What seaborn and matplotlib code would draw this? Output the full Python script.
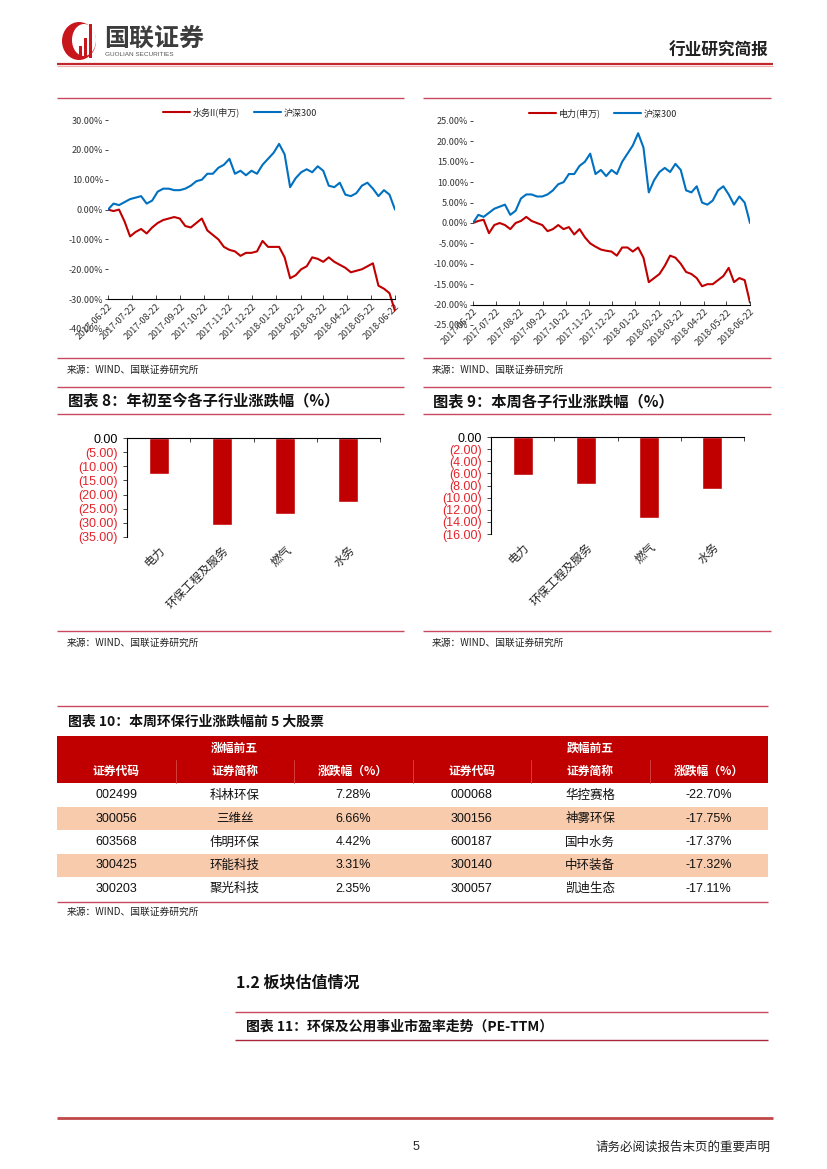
import numpy as np
import pandas as pd
import matplotlib
matplotlib.use('Agg')
import matplotlib.pyplot as plt
import matplotlib.patches as mpatches
import seaborn as sns

W, H = 827, 1169

# ---------------- data ----------------
line_dates = pd.date_range('2017-06-22', '2018-06-22', periods=53)
hs300 = [0, 2.0, 1.5, 2.5, 3.5, 4.0, 4.5, 2.0, 3.0, 6.0, 7.0, 7.0, 6.5, 6.5, 7.0,
         8.0, 9.5, 10.0, 12.0, 12.0, 14.0, 15.0, 17.0, 12.0, 13.0, 11.5, 13.0, 12.0,
         15.0, 17.0, 19.0, 22.0, 18.5, 7.5, 10.5, 12.5, 13.5, 12.5, 14.5, 13.0, 8.0,
         7.5, 9.0, 5.0, 4.5, 5.5, 8.0, 9.0, 7.0, 4.5, 6.5, 5.0, 0.0]
water = [0, -0.5, 0, -4, -9, -7.5, -6.5, -8, -6, -4.5, -3.5, -3, -2.5, -3, -5.5,
         -6, -4.5, -3, -7, -8.5, -10, -12.5, -13.5, -14, -15.5, -14.5, -14.5, -14,
         -10.5, -12.5, -12.5, -12.5, -16, -23, -22, -20, -19, -16, -16.5, -17.5, -16,
         -17.5, -18.5, -19.5, -21, -20.5, -20, -19, -18, -25.5, -26.5, -28, -34]
power = [0, 0.5, 0.8, -2.5, -0.5, 0, -0.5, -1.5, 0, 0.5, 1.5, 0.5, 0, -0.5, -2,
         -1.5, -0.5, -1.5, -1, -2.8, -1.5, -3.5, -5, -5.8, -6.5, -6.8, -7, -8,
         -6, -6, -7, -6, -8.5, -14.5, -13.5, -12.5, -10.5, -8, -8.5, -10, -12,
         -12.5, -13.5, -15.5, -15, -15, -14, -13, -11, -14.5, -13.5, -14, -19.5]
month_ticks = ['2017-06-22', '2017-07-22', '2017-08-22', '2017-09-22', '2017-10-22',
               '2017-11-22', '2017-12-22', '2018-01-22', '2018-02-22', '2018-03-22',
               '2018-04-22', '2018-05-22', '2018-06-22']

bar_cats = ['电力', '环保工程及服务', '燃气', '水务']
ytd_chg = [-12.8, -30.6, -26.9, -22.7]
week_chg = [-6.3, -7.7, -13.4, -8.5]

tbl_head = ['证券代码', '证券简称', '涨跌幅（%）', '证券代码', '证券简称', '涨跌幅（%）']
up_code = ['002499', '300056', '603568', '300425', '300203']
up_name = ['科林环保', '三维丝', '伟明环保', '环能科技', '聚光科技']
up_pct = [7.28, 6.66, 4.42, 3.31, 2.35]
dn_code = ['000068', '300156', '600187', '300140', '300057']
dn_name = ['华控赛格', '神雾环保', '国中水务', '中环装备', '凯迪生态']
dn_pct = [-22.70, -17.75, -17.37, -17.32, -17.11]

RED = '#C00000'
BLUE = '#0070C0'
NEG = '#E3242B'
SEP = '#C84860'
SRC = '来源：WIND、国联证券研究所'

sns.set_theme(style='white')
plt.rcParams['font.family'] = ['Noto Sans CJK SC', 'DejaVu Sans']
LAT = ['Liberation Sans', 'Noto Sans CJK SC']

fig = plt.figure(figsize=(W / 100, H / 100), dpi=100)


def px(x0, y0, x1, y1):
    return [x0 / W, 1 - y1 / H, (x1 - x0) / W, (y1 - y0) / H]


bg = fig.add_axes([0, 0, 1, 1])
bg.set_xlim(0, W)
bg.set_ylim(H, 0)
bg.axis('off')


def hline(y, x0, x1, color=SEP, lw=1.0):
    bg.plot([x0, x1], [y, y], color=color, lw=lw, solid_capstyle='butt')


# ---------------- header / footer ----------------
bg.add_patch(mpatches.Ellipse((79, 41), 34, 38, fc='#C8161D', ec='none'))
bg.add_patch(mpatches.Ellipse((84, 40), 24, 32, fc='white', ec='none'))
for bx, top in [(79, 46), (84, 38), (89, 24)]:
    bg.add_patch(mpatches.Rectangle((bx, top), 2.6, 58 - top, fc='#C8161D', ec='none'))
bg.text(104, 39, '国联证券', fontsize=18, fontweight='bold', color='#3c3c3c', va='center')
bg.text(105, 54, 'GUOLIAN SECURITIES', fontsize=4.6, color='#555555', va='center',
        family=LAT)
bg.text(768, 51, '行业研究简报', fontsize=12, fontweight='bold', color='#222222',
        ha='right', va='center')
hline(64, 57, 773, color='#C0282D', lw=1.6)
hline(65.8, 57, 773, color='#EDB0B0', lw=0.8)

hline(1118, 57, 773, color='#C04848', lw=2.0)
bg.text(416, 1147, '5', fontsize=9, ha='center', va='center', family=LAT)
bg.text(771, 1147, '请务必阅读报告末页的重要声明', fontsize=9, ha='right', va='center',
        color='#222222')


# ---------------- line charts ----------------
def line_chart(rect, red, red_label, ylo, yhi, ystep, axis_at, leg_x):
    ax = fig.add_axes(px(*rect))
    ax.patch.set_alpha(0)
    df = pd.DataFrame({'date': line_dates, red_label: red, '沪深300': hs300})
    df = df.melt('date', var_name='s', value_name='v')
    sns.lineplot(data=df, x='date', y='v', hue='s', palette=[RED, BLUE],
                 lw=1.5, ax=ax)
    ax.set_xlim(line_dates[0], line_dates[-1])
    ax.set_ylim(ylo, yhi)
    ax.set_xlabel('')
    ax.set_ylabel('')
    for s in ['left', 'top', 'right']:
        ax.spines[s].set_visible(False)
    ax.spines['bottom'].set_position(('data', axis_at))
    ax.spines['bottom'].set_color('black')
    ax.spines['bottom'].set_linewidth(0.8)
    ax.set_xticks(pd.to_datetime(month_ticks))
    ax.set_xticklabels(month_ticks, rotation=45, ha='right', va='top',
                       rotation_mode='anchor', fontsize=6.5, color='#333333')
    ax.tick_params(axis='x', bottom=True, direction='in', length=3, width=0.6, pad=2)
    yt = np.arange(yhi, ylo - 0.1, -ystep)
    ax.set_yticks(yt)
    ax.set_yticklabels([f'{v:.2f}%' for v in yt], fontsize=6.5, color='#333333')
    ax.tick_params(axis='y', left=True, length=2, width=0.6, pad=1.5)
    ax.legend(loc='lower center', bbox_to_anchor=(leg_x, 0.99), ncol=2, frameon=False,
              fontsize=6.5, handlelength=3.0, columnspacing=1.5, handletextpad=0.3,
              borderaxespad=0.1)
    return ax


line_chart((108, 120, 395, 329), water, '水务II(申万)', -40, 30, 10, -30, 0.46)
line_chart((473, 121, 750, 325), power, '电力(申万)', -25, 25, 5, -20, 0.47)

for x0, x1, tx in [(57, 404, 67), (423, 771, 432)]:
    hline(98, x0, x1)
    hline(358, x0, x1)
    bg.text(tx, 370, SRC, fontsize=7, va='center', color='#222222')


# ---------------- bar charts ----------------
def bar_chart(rect, vals, ylo, ystep):
    ax = fig.add_axes(px(*rect))
    ax.patch.set_alpha(0)
    sns.barplot(x=bar_cats, y=vals, color=RED, width=0.32, saturation=1, ax=ax)
    ax.set_ylim(ylo, 0)
    ax.set_xlim(-0.5, 3.5)
    ticks = np.arange(0, ylo - 0.1, -ystep)
    ax.set_yticks(ticks)
    ax.set_yticklabels(['0.00' if t == 0 else f'({-t:.2f})' for t in ticks],
                       fontsize=9, family=LAT)
    for lab, t in zip(ax.get_yticklabels(), ticks):
        lab.set_color('black' if t == 0 else NEG)
    for s in ['right', 'bottom']:
        ax.spines[s].set_visible(False)
    for s in ['left', 'top']:
        ax.spines[s].set_color('black')
        ax.spines[s].set_linewidth(0.8)
    ax.set_xticks(range(len(bar_cats)))
    ax.set_xticklabels(bar_cats, rotation=45, ha='right', va='top',
                       rotation_mode='anchor', fontsize=8.5)
    ax.tick_params(axis='x', which='major', bottom=True, length=0, pad=5)
    ax.set_xticks(np.arange(-0.5, len(bar_cats), 1.0), minor=True)
    ax.tick_params(axis='x', which='minor', top=True, bottom=False, direction='in',
                   length=3, width=0.6)
    ax.tick_params(axis='y', left=True, length=3, width=0.6, pad=3.5)
    ax.set_xlabel('')
    ax.set_ylabel('')
    return ax


bar_chart((127, 438, 380, 537), ytd_chg, -35, 5)
bar_chart((491, 437, 744, 534), week_chg, -16, 2)

for x0, x1, tx, title in [(57, 404, 68, '图表 8：年初至今各子行业涨跌幅（%）'),
                          (423, 771, 433, '图表 9：本周各子行业涨跌幅（%）')]:
    hline(387, x0, x1)
    hline(414, x0, x1)
    bg.text(tx, 401, title, fontsize=11, fontweight='bold', va='center', color='#111111')
    hline(631, x0, x1)
    bg.text(tx - 1, 643, SRC, fontsize=7, va='center', color='#222222')

# ---------------- table ----------------
tx0, tx1 = 57, 768
cw = (tx1 - tx0) / 6
hline(706, tx0, tx1)
bg.text(68, 722, '图表 10：本周环保行业涨跌幅前 5 大股票', fontsize=10, fontweight='bold',
        va='center', color='#111111')
bg.add_patch(mpatches.Rectangle((tx0, 736), tx1 - tx0, 47, fc=RED, ec='none'))
for k in range(1, 6):
    bg.plot([tx0 + k * cw] * 2, [760, 783], color='#D84848', lw=0.6)
bg.text(tx0 + 1.5 * cw, 748, '涨幅前五', fontsize=8.5, fontweight='bold', color='white',
        ha='center', va='center')
bg.text(tx0 + 4.5 * cw, 748, '跌幅前五', fontsize=8.5, fontweight='bold', color='white',
        ha='center', va='center')
for k, h in enumerate(tbl_head):
    bg.text(tx0 + (k + 0.5) * cw, 771.5, h, fontsize=8.5, fontweight='bold',
            color='white', ha='center', va='center')

row_edges = [783, 807, 830, 854, 877, 900]
for i in range(5):
    y0, y1 = row_edges[i], row_edges[i + 1]
    if i % 2 == 1:
        bg.add_patch(mpatches.Rectangle((tx0, y0), tx1 - tx0, y1 - y0, fc='#F8CBAD',
                                        ec='none'))
    yc = (y0 + y1) / 2
    cells = [up_code[i], up_name[i], f'{up_pct[i]:.2f}%',
             dn_code[i], dn_name[i], f'{dn_pct[i]:.2f}%']
    for k, c in enumerate(cells):
        fam = plt.rcParams['font.family'] if k in (1, 4) else LAT
        bg.text(tx0 + (k + 0.5) * cw, yc, c, fontsize=9, ha='center', va='center',
                family=fam, color='#111111')
hline(902, tx0, tx1)
bg.text(67, 912, SRC, fontsize=7, va='center', color='#222222')

# ---------------- section 1.2 ----------------
bg.text(236, 982, '1.2 板块估值情况', fontsize=11.5, fontweight='bold', va='center',
        color='#111111')
hline(1012, 235, 768)
bg.text(246, 1027, '图表 11：环保及公用事业市盈率走势（PE-TTM）', fontsize=10,
        fontweight='bold', va='center', color='#111111')
hline(1040, 235, 768, color='#A8283C')

fig.savefig('out.png', dpi=100)
